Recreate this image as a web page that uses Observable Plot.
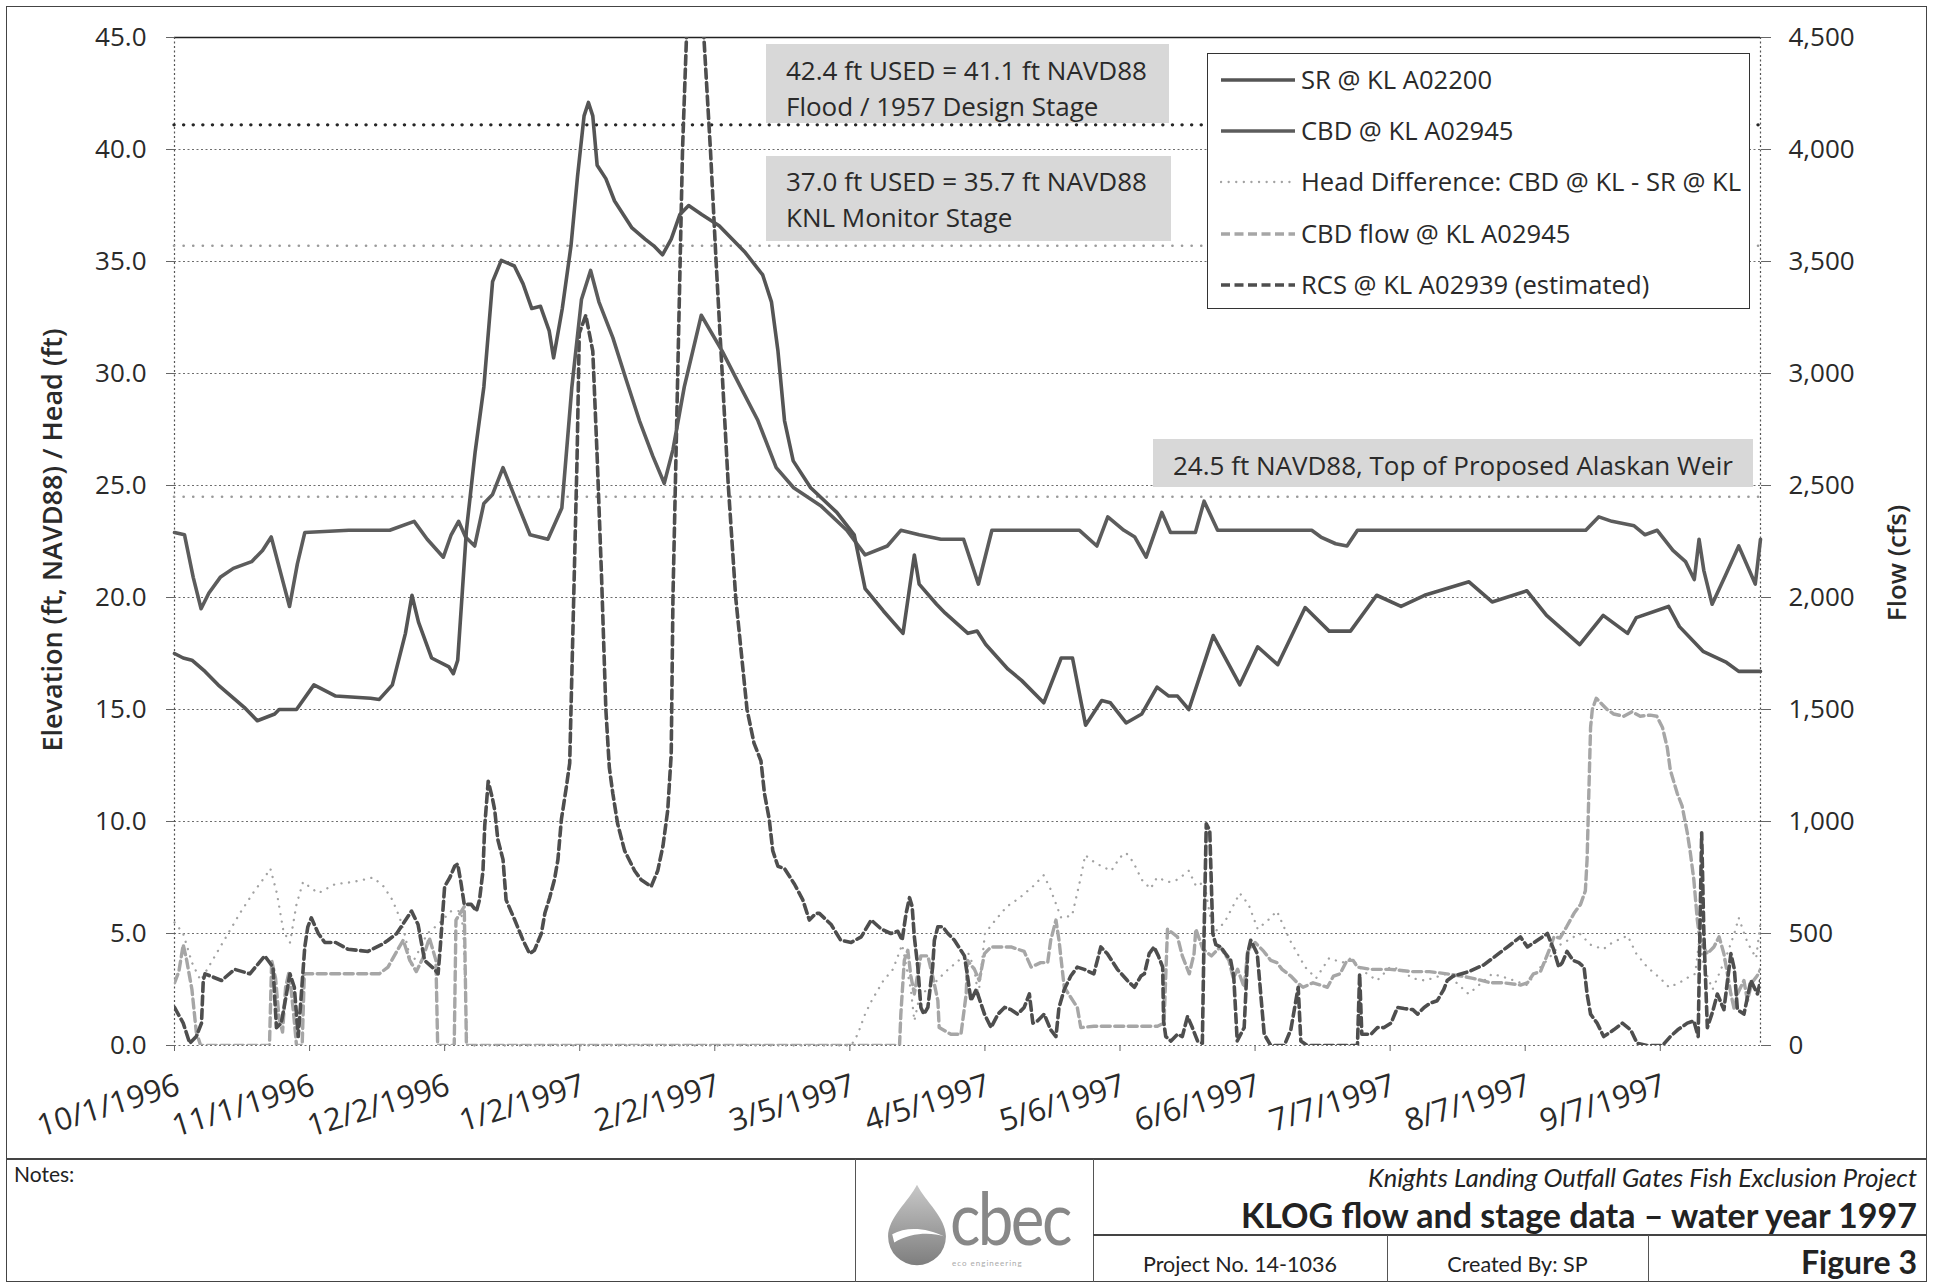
<!DOCTYPE html>
<html><head><meta charset="utf-8">
<script src="https://cdn.jsdelivr.net/npm/d3@7"></script>
<script src="https://cdn.jsdelivr.net/npm/@observablehq/plot@0.6"></script>
<style>
body{margin:0;background:#fff;}
#page{position:relative;width:1933px;height:1285px;overflow:hidden;font-family:"Open Sans",sans-serif;color:#2a2a2a;background:#fff;}
.note{background:#d8d8d8;font-size:26px;white-space:nowrap;color:#2a2a2a;box-sizing:border-box;}
.legrow{position:absolute;left:12px;height:40px;line-height:40px;font-size:25.6px;white-space:nowrap;display:flex;align-items:center;}
.legrow svg{margin-right:5px;}
.foot{font-family:Lato,"Open Sans",sans-serif;color:#222;white-space:nowrap;}
</style></head><body><div id="page"></div>
<script>
// ---------------- data (day = days since 10/1/1996) ----------------
const startDate = "1996-10-01";
const endDate = "1997-09-30";
const xTickLabels = ["10/1/1996","11/1/1996","12/2/1996","1/2/1997","2/2/1997","3/5/1997","4/5/1997","5/6/1997","6/6/1997","7/7/1997","8/7/1997","9/7/1997"];
const yTicks = [0,5,10,15,20,25,30,35,40,45];
const flowPerFt = 100; // right axis: 4,500 cfs at 45.0 ft
const refLevels = [41.1, 35.7, 24.5];

// SR @ KL A02200 (ft)
const SR = [[0,17.5],[2,17.3],[4,17.2],[7,16.7],[10,16.1],[13,15.6],[16,15.1],[19,14.5],[23,14.8],[24,15.0],[28,15.0],[32,16.1],[37,15.6],[45,15.5],[47,15.45],[50,16.1],[53,18.4],[54.5,20.1],[56,18.9],[59,17.3],[63,16.9],[64,16.6],[65,17.2],[66,20.1],[67,23.0],[69,26.5],[71,29.4],[73,34.1],[75,35.05],[78,34.8],[80,34.0],[82,32.9],[84,33.0],[86,31.9],[87,30.7],[89,32.9],[91,35.7],[92.5,38.8],[94,41.5],[95,42.1],[96,41.5],[97,39.3],[99,38.7],[101,37.7],[105,36.5],[108,36.0],[110,35.7],[112,35.3],[114,36.0],[116,37.1],[118,37.5],[121,37.1],[125,36.6],[131,35.4],[135,34.4],[137,33.2],[138.5,31.0],[140,27.9],[142,26.1],[146,24.9],[152,23.8],[156,22.8],[158.5,20.4],[162.7,19.4],[167.2,18.4],[169.8,21.9],[170.9,20.6],[174.9,19.7],[176.9,19.3],[182.1,18.4],[184.2,18.5],[186.2,17.9],[191.3,16.8],[194.4,16.3],[199.5,15.3],[203.5,17.3],[206.1,17.3],[209.1,14.3],[212.8,15.4],[214.8,15.3],[218.4,14.4],[222,14.8],[225.5,16.0],[228.2,15.6],[230.2,15.6],[232.8,15.0],[238.4,18.3],[244.5,16.1],[248.6,17.8],[253.2,17.0],[259.5,19.55],[265,18.5],[269.9,18.5],[275.9,20.1],[281.5,19.6],[286.9,20.1],[297.1,20.7],[302.4,19.8],[310.4,20.3],[314.9,19.2],[322.5,17.9],[327.9,19.2],[333.5,18.4],[335.5,19.1],[342.9,19.6],[345.4,18.7],[350.8,17.6],[356.2,17.1],[359,16.7],[364,16.7]];

// CBD @ KL A02945 (ft)
const CBD = [[0,22.9],[2.3,22.8],[4.3,20.9],[6.1,19.5],[7.9,20.2],[10.5,20.9],[13.5,21.3],[17.7,21.6],[20.2,22.1],[22.2,22.7],[24.5,21.0],[26.4,19.6],[28.2,21.5],[29.9,22.9],[40,23.0],[49.4,23.0],[55,23.4],[58,22.6],[61.7,21.8],[63.5,22.8],[65.2,23.4],[66.8,22.7],[68.9,22.3],[71,24.2],[73,24.6],[75.4,25.8],[78.9,24.1],[81.6,22.8],[85.7,22.6],[88.9,24.0],[91.2,29.4],[93.4,33.3],[95.5,34.6],[97.4,33.2],[100.6,31.6],[103.7,29.7],[106.7,27.9],[109.8,26.3],[112.4,25.1],[114.4,26.6],[117,29.4],[120.9,32.6],[125.7,31.0],[129.9,29.4],[133.9,27.9],[138.1,25.8],[142.1,24.9],[148.3,24.1],[154.3,23.0],[158.5,21.9],[163.6,22.3],[166.7,23.0],[170.9,22.8],[175.9,22.6],[181.1,22.6],[184.5,20.6],[187.6,23.0],[207.7,23.0],[211.7,22.3],[214.2,23.6],[217.9,23.0],[220.4,22.7],[223,21.8],[226.6,23.8],[228.6,22.9],[234.3,22.9],[236.3,24.3],[239.4,23.0],[261,23.0],[263.1,22.7],[266.5,22.4],[269.1,22.3],[271.5,23.0],[300,23.0],[323.9,23.0],[326.9,23.6],[329.9,23.4],[335,23.2],[337.5,22.8],[340.3,23.0],[343.9,22.1],[346.8,21.6],[348.8,20.8],[349.9,22.6],[351,21.2],[352.9,19.7],[356,21.0],[359,22.3],[362.8,20.6],[364,22.6]];

// Head Difference: CBD @ KL - SR @ KL (ft)
const HEAD = [[0,5.5],[2,5.0],[4,3.7],[6,2.9],[9,3.9],[12,4.9],[15,5.9],[18,6.8],[21,7.6],[22,7.9],[23.5,6.8],[25,5.1],[26.5,4.6],[28,6.3],[29.5,7.3],[33,6.8],[36.8,7.2],[41,7.3],[45.6,7.5],[48,7.1],[50,6.5],[51.7,5.7],[52.8,5.0],[54.4,3.6],[56,4.2],[58,5.0],[60.5,5.4],[62,5.7],[63.5,6.0],[65.8,6.0],[66.3,5.0],[66.6,3.5],[66.8,2.0],[67.2,0],[155.3,0],[156.8,0.5],[158.5,1.4],[160,2.0],[162.7,2.9],[164.9,3.4],[167,4.5],[169,2.5],[169.8,1.1],[171,2.2],[175,2.9],[177,3.3],[180,3.8],[182,4.2],[183.5,3.5],[184.5,2.2],[186,5.0],[188,5.5],[191,6.2],[194,6.6],[197,7.1],[199.5,7.6],[201,7.0],[203.5,5.7],[206,5.8],[208,7.5],[209,8.5],[211,8.2],[212.8,8.0],[215,7.8],[217,8.4],[218.4,8.6],[220,8.2],[222,7.4],[224,7.0],[225.5,7.5],[228.2,7.3],[230.2,7.4],[232.8,7.8],[234.5,7.1],[236.3,7.3],[238.4,5.0],[241,5.5],[244.5,6.8],[246.5,6.3],[248.6,5.2],[251,5.6],[253,6.0],[256,4.7],[259.5,3.5],[262,3.0],[265,3.9],[268,3.7],[270,3.9],[273,3.3],[276,2.9],[279,3.5],[281.5,3.4],[284,3.0],[287,2.9],[292,3.2],[297,2.3],[300,2.8],[302.4,3.2],[306,3.0],[310.4,2.7],[313,3.4],[315,3.8],[318,4.5],[322.5,5.0],[325,4.5],[327.9,4.3],[330,4.6],[333.5,4.9],[335.5,4.1],[338,3.5],[341,3.0],[343,2.6],[345.4,2.8],[347,3.0],[349,3.2],[350,4.8],[351,3.5],[353,2.5],[356,3.9],[358,5.0],[359,5.7],[361,4.6],[363,3.9],[364,5.5]];

// CBD flow @ KL A02945 (cfs)
const CBDFLOW = [[0,280],[1,330],[2,450],[2.8,380],[4,250],[5,60],[6,0],[21.8,0],[22.3,380],[23.2,300],[24,120],[24.8,60],[25.5,260],[26.3,330],[27.3,150],[28,0],[29.3,0],[29.8,320],[47,320],[49,350],[51,420],[52.5,470],[54,380],[55.5,330],[57,390],[58.5,480],[60,380],[60.4,0],[64.2,0],[64.6,560],[66.5,620],[67,0],[166.4,0],[166.7,140],[167.5,380],[168.3,425],[169,310],[169.8,230],[171.3,400],[172.9,400],[174,310],[175.2,200],[175.5,80],[178.2,50],[180.5,50],[181.7,230],[182,380],[183.6,340],[184.7,290],[185.9,410],[187.4,440],[192,440],[195,420],[196.6,350],[198.8,370],[200.4,370],[201.1,470],[202.3,560],[203,470],[204.2,260],[207.2,170],[208,80],[211,86],[221.8,86],[225.6,86],[227.1,100],[227.9,520],[230.2,485],[231.3,400],[232.9,320],[234,410],[234.4,520],[236,430],[238,400],[240,440],[242,380],[243,300],[244,340],[245.5,260],[246.3,420],[248,460],[250,420],[251.6,380],[253,370],[254.2,340],[256.2,310],[257.7,280],[259,260],[261.3,280],[264.6,260],[266,310],[267.5,320],[269.1,380],[270.5,380],[271.5,350],[274.6,340],[279,340],[284,330],[288,330],[292,320],[295.3,310],[298,300],[302,280],[305,280],[308.9,270],[310.5,280],[311.9,320],[313.5,330],[315.8,440],[316.6,485],[318,480],[319.5,530],[321.2,590],[322.7,630],[323.8,690],[324.2,830],[324.6,1125],[325,1420],[325.4,1500],[326.3,1550],[327.3,1530],[328.8,1500],[330.3,1480],[332.6,1470],[334.5,1490],[336.4,1470],[338.7,1475],[340.2,1470],[341.5,1420],[342.6,1330],[343.3,1230],[344.9,1125],[346,1070],[347.2,950],[347.9,860],[348.7,740],[349.5,560],[349.9,500],[350.5,455],[351.8,410],[353.3,440],[354.5,485],[355.6,410],[357.2,230],[358,160],[358.7,230],[360.2,290],[361,200],[362,280],[363.2,310],[364,340]];

// RCS @ KL A02939 (estimated) (cfs)
const RCS = [[0,170],[2,100],[3.5,10],[5,40],[6.2,100],[6.6,290],[7,320],[10.8,290],[13.8,340],[17.3,320],[20.7,400],[22.6,350],[23.4,80],[24.5,100],[25.7,230],[26.5,320],[27.5,260],[28.4,40],[29.9,440],[30.6,530],[31.4,570],[33,500],[34.5,460],[37,460],[39.8,430],[44.4,420],[47.5,450],[49,470],[51,500],[54.4,600],[55.9,540],[57.4,380],[59.7,340],[60.5,320],[61,440],[62,710],[63.2,750],[64.3,800],[65,810],[65.8,720],[66.5,630],[68.1,630],[69.3,600],[70,650],[70.8,780],[71.2,980],[72,1180],[73,1100],[73.5,1050],[74.2,920],[75.4,830],[76.1,650],[78.1,560],[80,470],[81.5,410],[82.6,425],[84.2,500],[85,590],[86.1,660],[87.2,740],[88,830],[88.8,1010],[89.9,1150],[90.7,1260],[91.5,1900],[92.4,2630],[92.9,3180],[94.4,3260],[96,3100],[97,2630],[98,2100],[99,1500],[99.8,1240],[100.6,1125],[101.7,990],[103.3,870],[105.6,780],[107.1,740],[109.4,710],[110.9,780],[112.1,890],[113.2,1050],[114,1300],[114.4,2000],[115.5,3000],[116.6,4000],[117.5,4500],[119.5,5000],[121.5,4500],[123,4000],[124.3,3500],[125.7,3000],[127.1,2500],[128.8,2000],[131.4,1500],[133,1350],[134.6,1270],[135.4,1125],[136.5,1010],[137.3,870],[138.5,800],[140,790],[142.3,720],[144.2,650],[145.7,560],[147.2,590],[148,590],[150.7,540],[152.9,470],[155.3,460],[157.6,485],[159.9,560],[162.2,520],[164.4,500],[166,510],[167,470],[167.9,590],[168.7,660],[169.3,620],[169.8,485],[170.6,350],[171.3,170],[172,140],[172.9,170],[174,350],[174.4,470],[175.2,530],[176.3,530],[177.5,500],[179,470],[181.3,400],[182,310],[182.8,200],[184,250],[185.9,140],[187.4,80],[189,140],[190.5,170],[192,160],[193.5,140],[195,170],[196.2,230],[197,100],[198.1,110],[199.6,140],[201.1,70],[202.3,40],[203,170],[204.2,250],[205.7,310],[207.2,350],[208.8,340],[211,320],[212.6,440],[214.1,410],[216.4,340],[218.7,290],[220.3,260],[221.8,310],[222.6,320],[223.7,410],[224.8,440],[225.8,400],[226.8,350],[227,110],[227.5,40],[228.7,20],[230.2,50],[231.3,40],[232.5,130],[233.6,80],[234.8,20],[235.9,10],[236.3,500],[236.8,990],[237.6,960],[238.3,500],[239,450],[240.1,440],[241.2,410],[242.4,380],[243.1,310],[243.9,20],[245.5,80],[246.3,410],[247,470],[248.5,410],[250.1,50],[251.6,0],[254.7,0],[256.2,70],[257.9,260],[258.5,20],[260,0],[271.5,0],[272,320],[272.5,50],[274.6,50],[276.1,80],[277.6,80],[279.2,100],[280.7,170],[282.2,165],[284.2,160],[285.3,140],[286.8,170],[288.3,190],[289.8,200],[291.3,250],[292.1,290],[293.5,310],[297.1,330],[300.5,360],[303.9,410],[306.6,450],[308.9,485],[310.5,440],[312.8,470],[315.1,500],[316.5,430],[317.7,350],[318.5,370],[319.6,420],[321,380],[322.3,370],[323.5,350],[324.2,230],[325,140],[326.5,100],[328,40],[330.3,70],[332.3,100],[334.2,70],[335.7,10],[338,0],[341.5,0],[343.3,40],[345,70],[347.2,100],[348.7,110],[349.7,40],[350.1,520],[350.5,950],[351,500],[351.8,80],[353,150],[354.1,230],[355.6,160],[357.2,410],[358,340],[358.7,160],[360.2,140],[361.8,290],[363.3,230],[364,290]];

// ---------------- build ----------------
const t0 = new Date(startDate + "T00:00:00Z");
const t1 = new Date(endDate + "T00:00:00Z");
const dayToDate = d => new Date(t0.getTime() + d * 864e5);
const parseTick = s => { const [m, d, y] = s.split("/").map(Number); return new Date(Date.UTC(y, m - 1, d)); };
const xTicks = xTickLabels.map(parseTick);
const fmtTick = d3.utcFormat("%-m/%-d/%Y");
const ftRows = arr => arr.map(([d, v]) => ({date: dayToDate(d), v}));
const cfsRows = arr => arr.map(([d, v]) => ({date: dayToDate(d), v: v / flowPerFt}));

const W = 1933, H = 1159;
const chart = Plot.plot({
  width: W, height: H,
  marginLeft: 174, marginRight: 173, marginTop: 37, marginBottom: 114,
  style: {fontFamily: "Open Sans, sans-serif", fontSize: "26px", color: "#2a2a2a", background: "transparent", overflow: "visible"},
  x: {type: "utc", domain: [t0, t1]},
  y: {domain: [0, 45]},
  marks: [
    Plot.ruleY(yTicks.filter(v => v < 45), {stroke: "#6e6e6e", strokeWidth: 1, strokeDasharray: "2,2.5"}),
    Plot.ruleY([45], {stroke: "#222", strokeWidth: 1.6}),
    Plot.ruleX([t0, t1], {stroke: "#555", strokeWidth: 1.2, strokeDasharray: "2,2.5"}),
    Plot.ruleY([refLevels[0]], {stroke: "#262626", strokeWidth: 3.4, strokeDasharray: "0.1,9.5", strokeLinecap: "round"}),
    Plot.ruleY(refLevels.slice(1), {stroke: "#9a9a9a", strokeWidth: 2.6, strokeDasharray: "0.1,9.5", strokeLinecap: "round"}),
    Plot.line(ftRows(HEAD), {x: "date", y: "v", stroke: "#a2a2a2", strokeWidth: 2.3, strokeDasharray: "0.1,7.5", strokeLinecap: "round"}),
    Plot.line(cfsRows(CBDFLOW), {x: "date", y: "v", stroke: "#a6a6a6", strokeWidth: 3.4, strokeDasharray: "9,4.5", clip: true}),
    Plot.line(cfsRows(RCS), {x: "date", y: "v", stroke: "#4e4e4e", strokeWidth: 3.6, strokeDasharray: "9,4.5", clip: true}),
    Plot.line(ftRows(CBD), {x: "date", y: "v", stroke: "#5c5c5c", strokeWidth: 3.6}),
    Plot.line(ftRows(SR), {x: "date", y: "v", stroke: "#555", strokeWidth: 3.6}),
    Plot.axisY({anchor: "left", ticks: yTicks, tickFormat: d => d.toFixed(1), tickSize: 8, tickPadding: 20, label: null, stroke: "#666"}),
    Plot.axisY({anchor: "right", ticks: yTicks, tickFormat: d => d3.format(",")(d * flowPerFt), tickSize: 10, tickPadding: 18, label: null, stroke: "#666"}),
    Plot.axisX({ticks: xTicks, tickSize: 6, tickFormat: () => "", label: null, stroke: "#666"}),
    Plot.text(xTicks, {x: d => d, frameAnchor: "bottom", text: d => fmtTick(d), rotate: -17, textAnchor: "end", lineAnchor: "middle", dx: 4, dy: 39, fontSize: 31, fill: "#2a2a2a"})
  ]
});

const page = document.getElementById("page");
chart.style.position = "absolute"; chart.style.left = "0px"; chart.style.top = "0px";
page.appendChild(chart);

function el(tag, css, html) { const e = document.createElement(tag); e.style.cssText = css; if (html != null) e.innerHTML = html; page.appendChild(e); return e; }

// annotation boxes
const notes = [
  {l: 766, t: 44, w: 403, h: 79, pt: 9, lh: 35.5, lines: ["42.4 ft USED = 41.1 ft NAVD88", "Flood / 1957 Design Stage"]},
  {l: 766, t: 156, w: 405, h: 85, pt: 8, lh: 35.7, lines: ["37.0 ft USED = 35.7 ft NAVD88", "KNL Monitor Stage"]},
  {l: 1153, t: 439, w: 600, h: 48, pt: 2, lh: 48, lines: ["24.5 ft NAVD88, Top of Proposed Alaskan Weir"]}
];
for (const n of notes) {
  const d = el("div", `position:absolute;left:${n.l}px;top:${n.t}px;width:${n.w}px;height:${n.h}px;padding:${n.pt}px 0 0 20px;line-height:${n.lh}px;`);
  d.className = "note";
  d.innerHTML = n.lines.join("<br>");
}

// legend
const legendItems = [
  {label: "SR @ KL A02200", stroke: "#555", w: 3.6, dash: null, cap: "butt"},
  {label: "CBD @ KL A02945", stroke: "#5c5c5c", w: 3.6, dash: null, cap: "butt"},
  {label: "Head Difference: CBD @ KL - SR @ KL", stroke: "#a2a2a2", w: 2.3, dash: "0.1,7.5", cap: "round"},
  {label: "CBD flow @ KL A02945", stroke: "#a6a6a6", w: 3.4, dash: "9,4.5", cap: "butt"},
  {label: "RCS @ KL A02939 (estimated)", stroke: "#4e4e4e", w: 3.6, dash: "9,4.5", cap: "butt"}
];
const leg = el("div", "position:absolute;left:1207px;top:53px;width:543px;height:256px;border:1.6px solid #333;background:#fff;box-sizing:border-box;");
legendItems.forEach((it, i) => {
  const row = document.createElement("div");
  row.className = "legrow";
  row.style.top = (6 + i * 51.2) + "px";
  row.innerHTML = `<svg width="76" height="12"><line x1="1" y1="6" x2="75" y2="6" stroke="${it.stroke}" stroke-width="${it.w}" ${it.dash ? `stroke-dasharray="${it.dash}"` : ""} stroke-linecap="${it.cap}"/></svg><span>${it.label}</span>`;
  leg.appendChild(row);
});

// axis titles
el("div", "position:absolute;left:51px;top:540px;transform:translate(-50%,-50%) rotate(-90deg);font-size:27px;font-weight:600;white-space:nowrap;", "Elevation (ft, NAVD88) / Head (ft)");
el("div", "position:absolute;left:1896px;top:563px;transform:translate(-50%,-50%) rotate(-90deg);font-size:26px;font-weight:600;white-space:nowrap;", "Flow (cfs)");

// frame and footer
el("div", "position:absolute;left:6px;top:6px;width:1921px;height:1276px;border:1.5px solid #444;box-sizing:border-box;pointer-events:none;");
el("div", "position:absolute;left:6px;top:1158px;width:1921px;height:0;border-top:2px solid #444;");
el("div", "position:absolute;left:855px;top:1159px;width:0;height:123px;border-left:1px solid #555;");
el("div", "position:absolute;left:1093px;top:1159px;width:0;height:123px;border-left:1px solid #555;");
el("div", "position:absolute;left:1093px;top:1234px;width:834px;height:0;border-top:2px solid #444;");
el("div", "position:absolute;left:1387px;top:1235px;width:0;height:47px;border-left:1px solid #555;");
el("div", "position:absolute;left:1648px;top:1235px;width:0;height:47px;border-left:1px solid #555;");

const foot = (css, txt) => { const e = el("div", "position:absolute;" + css, txt); e.className = "foot"; return e; };
foot("left:14px;top:1160px;font-size:21px;line-height:28px;", "Notes:");
foot("right:16px;top:1160px;font-size:25.5px;line-height:34px;font-style:italic;", "Knights Landing Outfall Gates Fish Exclusion Project");
foot("right:16px;top:1193px;font-size:34px;line-height:44px;font-weight:700;", "KLOG flow and stage data – water year 1997");
foot("left:1093px;width:294px;top:1249px;font-size:21.5px;line-height:30px;text-align:center;", "Project No. 14-1036");
foot("left:1387px;width:261px;top:1249px;font-size:21.5px;line-height:30px;text-align:center;", "Created By: SP");
foot("right:16px;top:1241px;font-size:32px;line-height:42px;font-weight:700;", "Figure 3");

// logo
el("div", "position:absolute;left:886px;top:1182px;width:62px;height:86px;",
  `<svg width="62" height="86" viewBox="0 0 60 82"><defs><linearGradient id="lg" x1="0" y1="0" x2="0" y2="1"><stop offset="0" stop-color="#c8c8c8"/><stop offset="1" stop-color="#7e7e7e"/></linearGradient></defs><path d="M30 2 C38 18 58 34 58 52 A28 28 0 0 1 2 52 C2 34 22 18 30 2 Z" fill="url(#lg)"/><path d="M6 50 C20 42 40 44 56 52 C44 48 24 48 8 58 Z" fill="#fff"/></svg>`);
foot("left:950px;top:1174px;font-size:74px;line-height:86px;color:#888;letter-spacing:-3px;transform:scaleX(0.86);transform-origin:left top;", "cbec");
foot("left:952px;top:1258px;font-size:8px;line-height:10px;color:#aaa;letter-spacing:1px;", "eco engineering");
</script></body></html>
